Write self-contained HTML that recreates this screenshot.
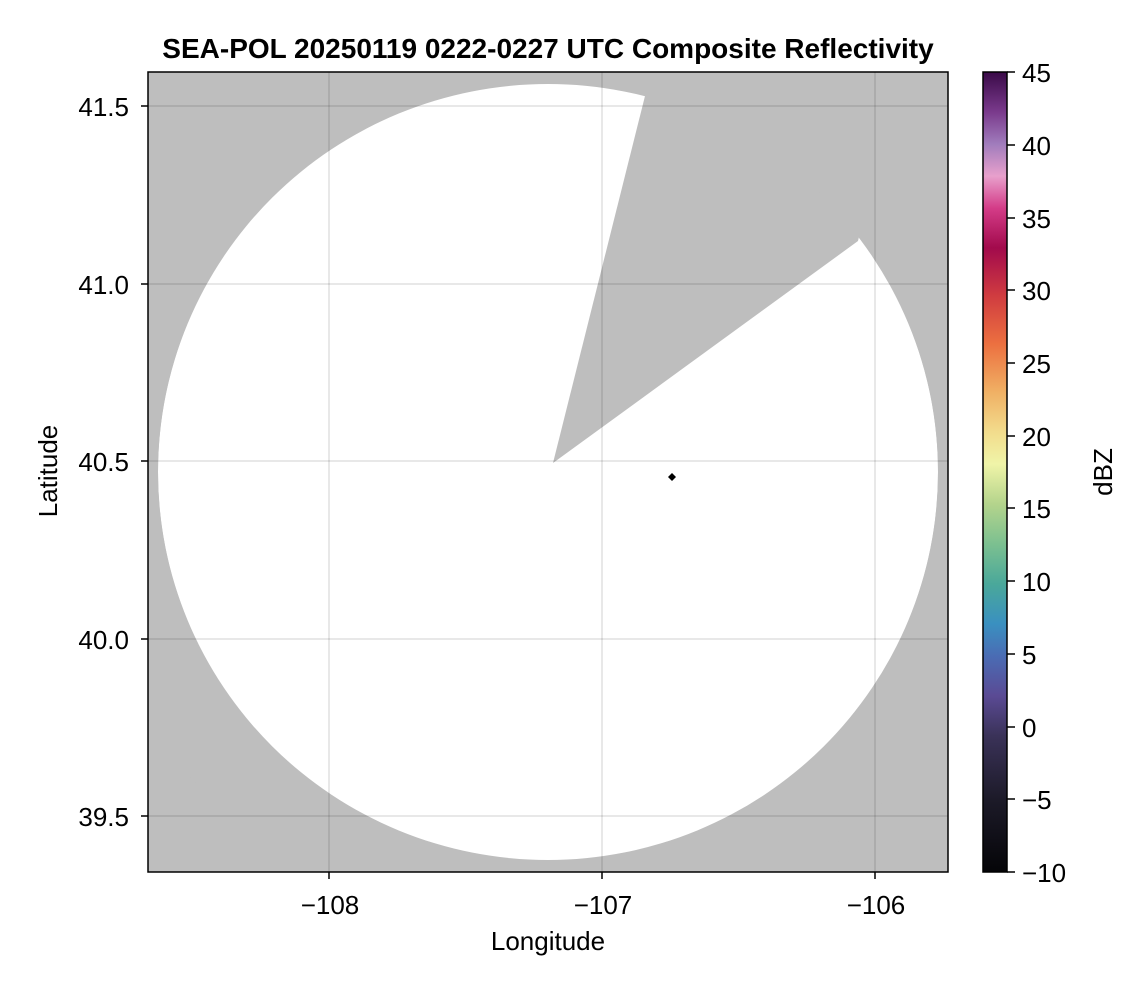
<!DOCTYPE html><html><head><style>body{margin:0;background:#fff}svg{display:block}text{font-family:"Liberation Sans",Arial,sans-serif;fill:#000}</style></head><body>
<svg width="1146" height="990" viewBox="0 0 1146 990">
<defs>
<linearGradient id="cb" x1="0" y1="1" x2="0" y2="0">
<stop offset="0" stop-color="#050508"/>
<stop offset="0.09" stop-color="#1c1a28"/>
<stop offset="0.17" stop-color="#3a3258"/>
<stop offset="0.22" stop-color="#5a4a94"/>
<stop offset="0.27" stop-color="#4a6cb4"/>
<stop offset="0.31" stop-color="#3a90c0"/>
<stop offset="0.36" stop-color="#4aa89a"/>
<stop offset="0.41" stop-color="#7cc090"/>
<stop offset="0.46" stop-color="#b4d48c"/>
<stop offset="0.51" stop-color="#f0f4a8"/>
<stop offset="0.55" stop-color="#f2dc8c"/>
<stop offset="0.60" stop-color="#f0b064"/>
<stop offset="0.66" stop-color="#ec7040"/>
<stop offset="0.72" stop-color="#d03c40"/>
<stop offset="0.78" stop-color="#a20a4c"/>
<stop offset="0.83" stop-color="#d43c88"/>
<stop offset="0.87" stop-color="#e8a0cc"/>
<stop offset="0.91" stop-color="#a07cbc"/>
<stop offset="0.95" stop-color="#7a3a8c"/>
<stop offset="1" stop-color="#3a0a48"/>
</linearGradient>
<clipPath id="pa"><rect x="148" y="72" width="800" height="800"/></clipPath>
</defs>
<text x="548" y="58" font-size="28" font-weight="bold" text-anchor="middle">SEA-POL 20250119 0222-0227 UTC Composite Reflectivity</text>
<rect x="148" y="72" width="800" height="800" fill="#bebebe"/>
<g clip-path="url(#pa)">
<ellipse cx="548" cy="472" rx="390" ry="388" fill="#fff"/>
<polygon points="553,463 645,96 700,60 900,60 858,241" fill="#bebebe"/>
<ellipse cx="548" cy="472" rx="430" ry="430" fill="none" stroke="#bebebe" stroke-width="80"/>
</g>
<g stroke="#000" stroke-opacity="0.12" stroke-width="1.5">
<line x1="329" y1="72" x2="329" y2="872"/><line x1="602" y1="72" x2="602" y2="872"/><line x1="875" y1="72" x2="875" y2="872"/>
<line x1="148" y1="106" x2="948" y2="106"/><line x1="148" y1="284" x2="948" y2="284"/><line x1="148" y1="461" x2="948" y2="461"/><line x1="148" y1="639" x2="948" y2="639"/><line x1="148" y1="816" x2="948" y2="816"/>
</g>
<polygon points="672,473 676,477 672,481 668,477" fill="#000"/>
<rect x="148" y="72" width="800" height="800" fill="none" stroke="#000" stroke-width="1.5"/>
<g stroke="#000" stroke-width="1.5">
<line x1="329" y1="872" x2="329" y2="879"/><line x1="602" y1="872" x2="602" y2="879"/><line x1="875" y1="872" x2="875" y2="879"/>
<line x1="141" y1="106" x2="148" y2="106"/><line x1="141" y1="284" x2="148" y2="284"/><line x1="141" y1="461" x2="148" y2="461"/><line x1="141" y1="639" x2="148" y2="639"/><line x1="141" y1="816" x2="148" y2="816"/>
</g>
<g font-size="26" text-anchor="middle">
<text x="330" y="914">−108</text><text x="603" y="914">−107</text><text x="876" y="914">−106</text>
<text x="548" y="950">Longitude</text>
</g>
<g font-size="26" text-anchor="end">
<text x="129" y="116">41.5</text><text x="129" y="294">41.0</text><text x="129" y="471">40.5</text><text x="129" y="649">40.0</text><text x="129" y="826">39.5</text>
</g>
<text transform="translate(57,471) rotate(-90)" font-size="26" text-anchor="middle">Latitude</text>
<rect x="983" y="72" width="24" height="800" fill="url(#cb)" stroke="#000" stroke-width="1.5"/>
<g stroke="#000" stroke-width="1.5">
<line x1="1007" y1="72" x2="1015" y2="72"/><line x1="1007" y1="145" x2="1015" y2="145"/><line x1="1007" y1="218" x2="1015" y2="218"/><line x1="1007" y1="290" x2="1015" y2="290"/><line x1="1007" y1="363" x2="1015" y2="363"/><line x1="1007" y1="436" x2="1015" y2="436"/><line x1="1007" y1="508" x2="1015" y2="508"/><line x1="1007" y1="581" x2="1015" y2="581"/><line x1="1007" y1="654" x2="1015" y2="654"/><line x1="1007" y1="727" x2="1015" y2="727"/><line x1="1007" y1="799" x2="1015" y2="799"/><line x1="1007" y1="872" x2="1015" y2="872"/>
</g>
<g font-size="26">
<text x="1022" y="82">45</text><text x="1022" y="155">40</text><text x="1022" y="228">35</text><text x="1022" y="300">30</text><text x="1022" y="373">25</text><text x="1022" y="446">20</text><text x="1022" y="518">15</text><text x="1022" y="591">10</text><text x="1022" y="664">5</text><text x="1022" y="737">0</text><text x="1022" y="809">−5</text><text x="1022" y="882">−10</text>
</g>
<text transform="translate(1112,472) rotate(-90)" font-size="26" text-anchor="middle">dBZ</text>
</svg>
</body></html>
